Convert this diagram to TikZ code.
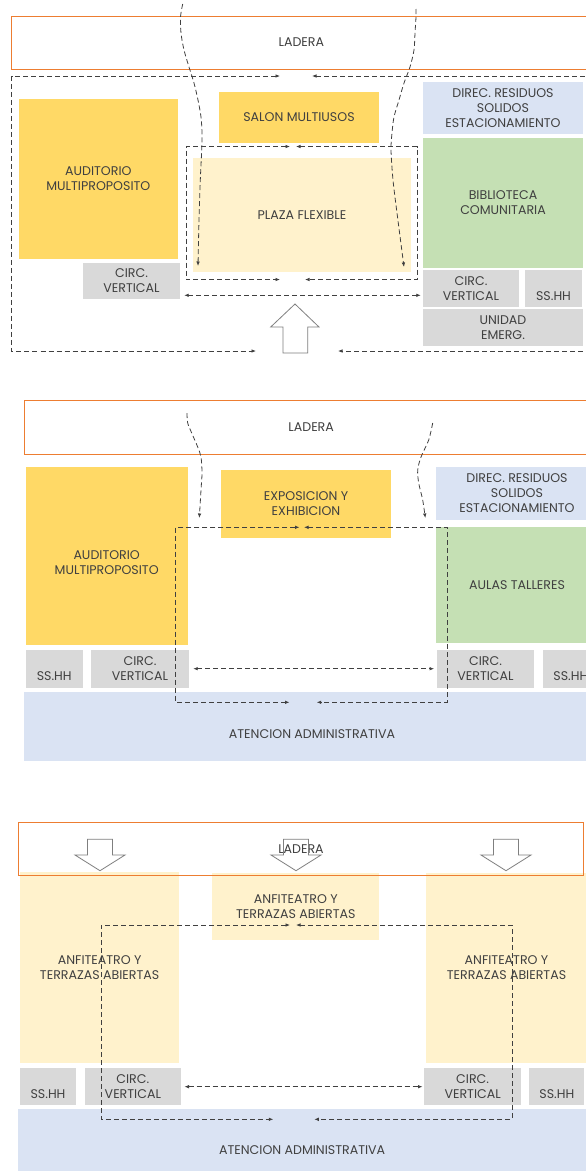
\documentclass[tikz,border=0pt]{standalone}
\usepackage{fontspec}
\setmainfont{Poppins}
\usetikzlibrary{arrows.meta}
\definecolor{ylw}{HTML}{FFD966}
\definecolor{lylw}{HTML}{FFF2CC}
\definecolor{grn}{HTML}{C5E0B4}
\definecolor{blu}{HTML}{DAE3F3}
\definecolor{gry}{HTML}{D9D9D9}
\definecolor{org}{HTML}{ED7D31}
\definecolor{txt}{HTML}{404040}
\definecolor{lnc}{HTML}{404040}
\definecolor{arr}{HTML}{7F7F7F}
\tikzset{
  lbl/.style={inner sep=0pt, align=center, text=txt, font=\fontsize{12.6}{15}\selectfont},
  area/.style={lbl, draw=none},
  ladbox/.style={lbl, draw=org, line width=0.8pt},
  circpath/.style={draw=lnc, line width=0.8pt, dash pattern=on 5pt off 3pt},
  tip2/.style={circpath, {Latex[length=4.5pt,width=3.6pt]}-{Latex[length=4.5pt,width=3.6pt]}},
  tip1/.style={circpath, -{Latex[length=4.5pt,width=3.6pt]}},
  hollow/.style={draw=arr, line width=0.8pt, line join=miter}
}
% name, x1, y1, x2, y2, fill, text
\newcommand{\roombox}[7]{%
  \node[area, fill=#6, minimum width={#4-#2}, minimum height={#5-#3}]
    (#1) at ({(#2+#4)/2},{(#3+#5)/2}) {#7};}
\newcommand{\ladrect}[6]{%
  \node[ladbox, minimum width={#4-#2}, minimum height={#5-#3}]
    (#1) at ({(#2+#4)/2},{(#3+#5)/2}) {#6};}
\newcommand{\lowline}{\vphantom{CIRC.}}
% down hollow arrow centred at x
\newcommand{\downhollow}[1]{%
  \draw[hollow] ({#1-12.5},839.3) -- ({#1+12.5},839.3) -- ({#1+12.5},855) -- ({#1+25},855)
    -- (#1,870.7) -- ({#1-25},855) -- ({#1-12.5},855) -- cycle;}
\begin{document}
\begin{tikzpicture}[x=1pt,y=-1pt]
\useasboundingbox (0,0) rectangle (586,1171);
\clip (0,0) rectangle (586,1171);
\fill[white] (0,0) rectangle (586,1171);

% ================= SECTION 1 =================
\ladrect{lad1}{11.7}{16}{591}{69}{LADERA}
\roombox{aud1}{18.7}{99}{178}{259}{ylw}{AUDITORIO\\MULTIPROPOSITO}
\roombox{salon}{219}{92}{379}{143}{ylw}{SALON MULTIUSOS}
\roombox{plaza}{193}{158}{411}{272}{lylw}{PLAZA FLEXIBLE}
\roombox{direc1}{423}{82}{583}{134}{blu}{DIREC. RESIDUOS\\SOLIDOS\\ESTACIONAMIENTO}
\roombox{bib}{423}{138}{583}{268}{grn}{BIBLIOTECA\\COMUNITARIA}
\roombox{circR1}{423}{270}{519}{307}{gry}{CIRC.\\VERTICAL}
\roombox{ssR1}{525}{270}{582}{307}{gry}{\lowline\\SS.HH}
\roombox{emerg}{423}{309}{583}{346}{gry}{UNIDAD\\EMERG.}
\roombox{circL1}{83}{263}{180}{299}{gry}{CIRC.\\VERTICAL}

\coordinate (o1a) at (280,76);   \coordinate (o1b) at (11.7,76);
\coordinate (o1c) at (11.7,351); \coordinate (o1d) at (256,351);
\coordinate (o1e) at (312,76);   \coordinate (o1f) at (600,76);
\coordinate (o1g) at (600,351);  \coordinate (o1h) at (338,351);
\draw[tip2] (o1a) -- (o1b) -- (o1c) -- (o1d);
\draw[tip2] (o1e) -- (o1f) -- (o1g) -- (o1h);
\coordinate (i1a) at (290,146.5); \coordinate (i1b) at (186,146.5);
\coordinate (i1c) at (186,279.5); \coordinate (i1d) at (280,279.5);
\coordinate (i1e) at (296,146.5); \coordinate (i1f) at (417,146.5);
\coordinate (i1g) at (417,279.5); \coordinate (i1h) at (305,279.5);
\draw[tip2] (i1a) -- (i1b) -- (i1c) -- (i1d);
\draw[tip2] (i1e) -- (i1f) -- (i1g) -- (i1h);
\draw[tip2] ([xshift=4pt]circL1.east |- 0,295.3) -- ([xshift=-2pt]circR1.west |- 0,295.3);
\draw[tip1] plot[smooth] coordinates {(182.7,4) (180.5,17) (181,33) (184,50) (189,67) (194,83) (198,100) (201,117) (202,133) (201.7,150) (200.3,180) (199,220) (198,266)};
\draw[tip1] plot[smooth] coordinates {(416,9) (416,17) (415,33) (414,50) (410,67) (404,83) (399,100) (394,117) (392,133) (391,150) (393,180) (397,213) (404,267)};
\draw[hollow, fill=white] (295,304) -- (319,327) -- (307.7,327) -- (307.7,353) -- (283,353) -- (283,327) -- (270.7,327) -- cycle;

% ================= SECTION 2 =================
\ladrect{lad2}{24.3}{400}{598}{454}{LADERA}
\roombox{aud2}{25.7}{466.7}{187.7}{645}{ylw}{}
\node[lbl] (aud2t) at (106.7,563) {AUDITORIO\\MULTIPROPOSITO};
\roombox{expo}{221}{470}{391}{538}{ylw}{EXPOSICION Y\\EXHIBICION}
\roombox{direc2}{436}{467}{598}{520}{blu}{DIREC. RESIDUOS\\SOLIDOS\\ESTACIONAMIENTO}
\roombox{aulas}{436}{527}{598}{643}{grn}{AULAS TALLERES}
\roombox{ssL2}{25.7}{650}{82.7}{688}{gry}{\lowline\\SS.HH}
\roombox{circL2}{91}{650}{189}{688}{gry}{CIRC.\\VERTICAL}
\roombox{circR2}{436.7}{650}{534.3}{688}{gry}{CIRC.\\VERTICAL}
\roombox{ssR2}{542.7}{650}{599}{688}{gry}{\lowline\\SS.HH}
\roombox{aten2}{24}{692}{600}{760.7}{blu}{}
\node[lbl] (aten2t) at (312,734) {ATENCION ADMINISTRATIVA};

\draw[tip1] plot[smooth] coordinates {(187,413) (187.7,423) (191.7,433) (197.7,447) (201,457) (202,473) (201,490) (199.3,518)};
\draw[tip1] plot[smooth] coordinates {(432.7,423) (428.7,440) (421,457) (417.7,470) (418.7,483) (422.7,500) (425.3,518)};
\coordinate (i2a) at (299.5,527.3); \coordinate (i2b) at (175.7,527.3);
\coordinate (i2c) at (175.7,702.3); \coordinate (i2d) at (289.5,702.3);
\coordinate (i2e) at (304,527.3);   \coordinate (i2f) at (447,527.3);
\coordinate (i2g) at (447,702.3);   \coordinate (i2h) at (316.7,702.3);
\draw[tip2] (i2a) -- (i2b) -- (i2c) -- (i2d);
\draw[tip2] (i2e) -- (i2f) -- (i2g) -- (i2h);
\draw[tip2] ([xshift=4pt]circL2.east |- 0,668.7) -- ([xshift=-2.4pt]circR2.west |- 0,668.7);

% ================= SECTION 3 =================
\roombox{anfL}{20}{872}{179.3}{1062.7}{lylw}{ANFITEATRO Y\\TERRAZAS ABIERTAS}
\roombox{anfM}{212.3}{873}{379.3}{940}{lylw}{ANFITEATRO Y\\TERRAZAS ABIERTAS}
\roombox{anfR}{426}{873}{587}{1062.7}{lylw}{ANFITEATRO Y\\TERRAZAS ABIERTAS}
\roombox{ssL3}{20}{1068.3}{76}{1105}{gry}{\lowline\\SS.HH}
\roombox{circL3}{85}{1068.3}{180.7}{1105}{gry}{CIRC.\\VERTICAL}
\roombox{circR3}{424.3}{1068.3}{521}{1105}{gry}{CIRC.\\VERTICAL}
\roombox{ssR3}{529.3}{1068.3}{584.3}{1105}{gry}{\lowline\\SS.HH}
\roombox{aten3}{18.3}{1109}{586}{1192}{blu}{ATENCION ADMINISTRATIVA}
\ladrect{lad3}{18.3}{822.3}{583.7}{875}{LADERA}

\coordinate (i3a) at (290,925);    \coordinate (i3b) at (101,925);
\coordinate (i3c) at (101,1119.3); \coordinate (i3d) at (273.3,1119.3);
\coordinate (i3e) at (296,925);    \coordinate (i3f) at (512,925);
\coordinate (i3g) at (512,1119.3); \coordinate (i3h) at (314.3,1119.3);
\draw[tip2] (i3a) -- (i3b) -- (i3c) -- (i3d);
\draw[tip2] (i3e) -- (i3f) -- (i3g) -- (i3h);
\draw[tip2] ([xshift=3.6pt]circL3.east |- 0,1086.7) -- ([xshift=-1.6pt]circR3.west |- 0,1086.7);
\downhollow{100}
\downhollow{296}
\downhollow{506}
\end{tikzpicture}
\end{document}
